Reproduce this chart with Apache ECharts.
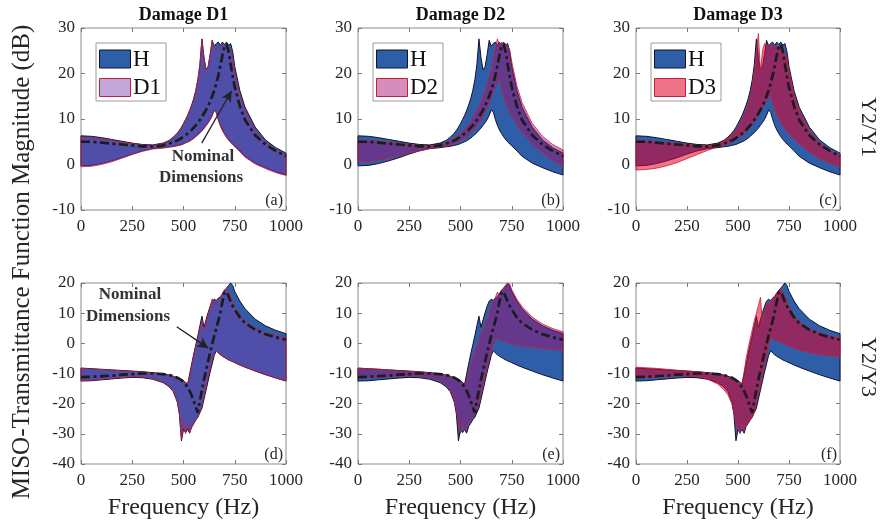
<!DOCTYPE html>
<html>
<head>
<meta charset="utf-8">
<script src="https://cdn.jsdelivr.net/npm/echarts/dist/echarts.min.js"></script>
<style>
  html, body { margin: 0; padding: 0; background: #ffffff; }
  #chart { width: 882px; height: 524px; }
</style>
</head>
<body>
<div id="chart"></div>
<script>
// Frequency grid (Hz) shared by every curve
const freq = [0,50,100,150,200,250,300,350,400,430,450,470,480,490,500,510,520,530,540,550,560,570,580,590,600,610,620,630,640,650,660,670,680,690,700,710,720,730,740,750,775,800,850,900,950,1000];

// ---- Y2/Y1 transmittance (dB) ----
const hUpperTop  = [6.3,6.2,5.9,5.5,5.1,4.7,4.4,4.3,4.7, 5.3,6.0,6.9,7.5,8.2, 9.0,9.9,10.8,11.9,13.1,14.5,16.3,18.6,22.0,27.6,23.5,20.8,21.5,24.2,27.3,26.0,26.6,26.9,26.2,26.9,26.4,26.9,26.2,26.6,24.8, 21.5,16.2,12.6,8.2,5.4,3.7,2.5];
const hLowerTop  = [-0.3,-0.2,0.2,0.8,1.5,2.3,3.0,3.5,3.7, 3.9,4.0,4.2,4.3,4.4, 4.6,4.8,5.0,5.2,5.5,5.8,6.2,6.6,7.0,7.5,8.0,8.6,9.2,9.9,10.8,12.0,11.5,9.9,8.6,7.6,6.8,6.1,5.5,5.0,4.5, 4.1,3.0,1.8,0.3,-0.7,-1.6,-2.3];
const nomTop     = [5.0,5.0,4.8,4.6,4.4,4.2,4.0,3.95,4.2, 4.6,4.9,5.3,5.5,5.8, 6.1,6.4,6.8,7.2,7.6,8.1,8.6,9.2,9.8,10.5,11.2,12.0,12.9,13.9,15.0,16.3,17.8,19.6,21.7,24.0,26.0,26.4,24.8,22.0,19.3, 17.0,12.8,9.8,6.4,4.4,3.0,1.8];
const d1UpperTop = [5.9,5.8,5.6,5.3,4.9,4.6,4.3,4.2,4.6, 5.2,5.9,6.8,7.4,8.1, 8.9,9.8,10.7,11.8,13.0,14.4,16.2,18.5,21.9,27.5,23.4,20.7,21.4,24.1,27.2,25.6,25.4,25.8,25.5,26.2,25.9,26.3,25.4,24.9,23.3, 20.4,15.2,11.8,7.6,4.9,3.2,2.0];
const d1LowerTop = [-0.5,-0.4,0.0,0.6,1.4,2.2,2.9,3.4,3.6, 3.8,3.9,4.1,4.2,4.3, 4.5,4.7,4.9,5.1,5.4,5.7,6.1,6.5,6.9,7.4,7.9,8.5,9.1,9.8,10.7,11.9,11.3,9.7,8.4,7.4,6.6,5.9,5.3,4.8,4.3, 3.9,2.8,1.6,0.1,-0.9,-1.8,-2.4];
const d2UpperTop = [5.3,5.3,5.1,4.9,4.6,4.4,4.2,4.1,4.4, 4.9,5.3,5.8,6.1,6.5, 6.9,7.3,7.8,8.3,8.9,9.5,10.2,11.0,11.8,12.7,13.7,14.8,16.0,17.4,19.0,20.8,22.9,25.4,27.6,26.3,26.8,26.0,26.6,26.1,25.2, 22.6,17.3,13.6,9.0,6.2,4.4,3.2];
const d2LowerTop = [0.6,0.7,1.0,1.4,1.9,2.5,3.0,3.5,3.9, 4.1,4.3,4.6,4.8,5.0, 5.2,5.5,5.8,6.1,6.5,6.9,7.4,7.9,8.5,9.1,9.8,10.6,11.5,12.5,13.6,14.8,16.0,17.2,18.2,19.0,17.0,15.2,13.8,12.6,11.6, 10.7,8.8,7.2,4.6,2.6,0.9,-0.5];
const d3UpperTop = [5.2,5.2,5.0,4.8,4.6,4.4,4.2,4.1,4.5, 5.1,5.7,6.5,7.0,7.6, 8.3,9.1,9.9,10.9,12.0,13.3,15.0,17.2,20.6,24.5,28.8,20.3,25.0,26.6,25.8,26.5,25.6,26.2,25.8,26.0,25.8,25.9,25.0,24.5,23.2, 20.5,15.3,11.8,7.5,4.7,3.0,2.0];
const d3LowerTop = [-1.2,-1.1,-0.8,-0.3,0.4,1.3,2.2,3.1,3.9, 4.3,4.6,5.0,5.2,5.5, 5.8,6.1,6.5,6.9,7.3,7.8,8.3,8.9,9.5,10.2,10.9,11.7,12.5,13.3,14.1,14.8,15.2,13.6,12.2,11.0,10.0,9.2,8.5,7.9,7.3, 6.8,5.6,4.6,2.8,1.3,0.3,-0.5];

// ---- Y2/Y3 transmittance (dB) ----
const hUpperBot  = [-8.2,-8.4,-8.6,-8.8,-9.0,-9.2,-9.4,-9.7,-10.1, -10.5,-10.9,-11.4,-11.7,-12.0, -12.4,-12.9,-13.6,-10.2,-6.8,-3.5,-0.5,2.5,5.8,9.0,5.3,7.8,10.2,12.3,14.0,14.6,14.2,15.0,15.4,16.5,17.6,18.3,19.2,20.0,19.2, 17.2,14.0,11.5,8.0,5.8,4.3,3.2];
const hLowerBot  = [-12.5,-12.4,-12.1,-11.8,-11.5,-11.3,-11.4,-11.9,-13.0, -14.4,-16.0,-19.5,-23.5,-32.3, -28.5,-29.6,-28.5,-29.8,-27.5,-26.5,-25.3,-24.5,-23.0,-21.5,-18.5,-15.5,-12.5,-9.5,-6.8,-4.0,-2.4,-3.2,-3.8,-4.3,-4.7,-5.1,-5.5,-5.8,-6.1, -6.4,-7.2,-7.9,-9.2,-10.4,-11.5,-12.5];
const nomBot     = [-11.2,-11.1,-10.9,-10.7,-10.4,-10.2,-10.0,-10.0,-10.2, -10.5,-10.9,-11.4,-11.8,-12.2, -12.8,-13.6,-14.6,-15.8,-17.3,-19.2,-21.3,-23.0,-19.0,-15.5,-12.0,-9.0,-6.0,-3.0,-0.2,2.5,5.0,7.5,10.3,13.8,16.8,17.2,15.5,13.8,12.4, 11.2,8.6,6.7,4.5,3.0,2.0,1.2];
const d1UpperBot = [-8.3,-8.5,-8.7,-8.9,-9.1,-9.3,-9.5,-9.8,-10.2, -10.6,-11.0,-11.5,-11.8,-12.1, -12.5,-13.0,-13.4,-10.8,-7.4,-4.0,-1.0,2.0,5.0,7.5,4.3,7.0,9.5,12.0,14.8,12.2,14.0,14.5,15.2,16.5,17.8,18.2,17.3,16.0,14.0, 12.2,9.4,7.4,5.0,3.6,2.6,1.9];
const d1LowerBot = [-12.3,-12.2,-11.9,-11.6,-11.3,-11.1,-11.2,-11.7,-12.8, -14.2,-15.8,-19.3,-23.3,-31.8, -25.8,-30.0,-26.5,-29.5,-28.0,-26.8,-25.5,-24.5,-22.8,-20.3,-17.5,-14.3,-11.0,-8.0,-5.2,-3.0,-2.6,-3.1,-3.7,-4.2,-4.6,-5.0,-5.4,-5.7,-6.0, -6.3,-7.1,-7.8,-9.1,-10.3,-11.4,-12.4];
const d2UpperBot = [-8.3,-8.4,-8.6,-8.8,-9.1,-9.3,-9.5,-9.8,-10.2, -10.6,-11.0,-11.6,-12.0,-12.4, -12.9,-13.4,-14.0,-12.5,-10.0,-7.5,-5.0,-2.8,-0.8,1.0,2.8,4.5,6.2,8.0,10.0,12.2,14.0,15.2,17.0,16.2,17.5,18.2,19.2,19.9,19.6, 17.8,14.6,12.2,8.7,6.4,4.9,3.8];
const d2LowerBot = [-11.3,-11.3,-11.2,-11.0,-10.9,-10.8,-10.9,-11.3,-12.4, -13.8,-15.4,-18.8,-22.5,-26.5, -30.0,-26.0,-29.0,-27.5,-26.5,-25.5,-24.5,-23.5,-22.0,-19.5,-16.8,-14.0,-11.0,-8.0,-5.2,-2.5,-0.2,1.5,1.6,1.3,1.0,0.7,0.5,0.3,0.1, -0.1,-0.5,-0.8,-1.3,-1.7,-2.0,-2.3];
const d3UpperBot = [-7.9,-8.1,-8.3,-8.6,-8.9,-9.2,-9.4,-9.8,-10.3, -10.8,-11.2,-11.8,-12.2,-12.6, -13.1,-13.6,-13.0,-9.5,-5.0,-1.5,1.5,4.5,7.5,10.0,12.5,15.2,6.5,10.5,13.5,12.8,14.0,15.0,15.8,16.8,17.5,17.8,17.0,15.5,13.8, 12.2,9.2,7.2,4.9,3.4,2.5,1.8];
const d3LowerBot = [-11.3,-11.3,-11.2,-11.0,-10.8,-10.8,-11.0,-11.8,-13.5, -15.3,-17.0,-20.0,-23.0,-26.5, -28.5,-30.0,-26.0,-29.0,-27.0,-26.5,-25.5,-24.5,-22.5,-19.5,-16.5,-13.5,-10.5,-7.3,-4.0,-0.8,2.0,1.6,1.2,0.9,0.6,0.3,0.0,-0.3,-0.6, -0.9,-1.6,-2.2,-3.0,-3.7,-4.1,-4.5];

// Axis ticks
const xTicks = { min: 0, max: 1000, step: 250 };
const yTicksTop = { min: -10, max: 30, step: 10 };
const yTicksBot = { min: -40, max: 20, step: 10 };

// Arrow endpoints for the "Nominal Dimensions" callouts [Hz, dB]
const arrowTop = [[589, 4.7], [735, 16.2]];
const arrowBot = [[467, 5.5], [621, -1.6]];

// ---- styling ----
const SERIF = 'Liberation Serif';
const H_FILL = '#2f5ea8';
const H_EDGE = '#10122e';
const D_EDGE = '#c41e3a';
const D_FILLS = ['rgba(120,60,170,0.45)', 'rgba(165,15,110,0.47)', 'rgba(225,0,40,0.55)'];
const TEXT = '#262626';

const colLeft = [81, 358, 636];
const colWidth = [205, 205, 204];
const rowTop = [28, 283];
const rowHeight = [182, 181];

const panels = [
  { r: 0, c: 0, yt: yTicksTop, hU: hUpperTop, hL: hLowerTop, dU: d1UpperTop, dL: d1LowerTop, nom: nomTop, tag: '(a)', arrow: arrowTop },
  { r: 0, c: 1, yt: yTicksTop, hU: hUpperTop, hL: hLowerTop, dU: d2UpperTop, dL: d2LowerTop, nom: nomTop, tag: '(b)' },
  { r: 0, c: 2, yt: yTicksTop, hU: hUpperTop, hL: hLowerTop, dU: d3UpperTop, dL: d3LowerTop, nom: nomTop, tag: '(c)' },
  { r: 1, c: 0, yt: yTicksBot, hU: hUpperBot, hL: hLowerBot, dU: d1UpperBot, dL: d1LowerBot, nom: nomBot, tag: '(d)', arrow: arrowBot },
  { r: 1, c: 1, yt: yTicksBot, hU: hUpperBot, hL: hLowerBot, dU: d2UpperBot, dL: d2LowerBot, nom: nomBot, tag: '(e)' },
  { r: 1, c: 2, yt: yTicksBot, hU: hUpperBot, hL: hLowerBot, dU: d3UpperBot, dL: d3LowerBot, nom: nomBot, tag: '(f)' }
];
const damageNames = ['D1', 'D2', 'D3'];

// Closed polygon between an upper and a lower envelope, mapped through the axes
function bandRenderer(xs, upper, lower, fill, stroke, lw) {
  return function (params, api) {
    if (params.dataIndex !== 0) return;
    const pts = [];
    for (let i = 0; i < xs.length; i++) pts.push(api.coord([xs[i], upper[i]]));
    for (let i = xs.length - 1; i >= 0; i--) pts.push(api.coord([xs[i], lower[i]]));
    return {
      type: 'polygon',
      shape: { points: pts },
      style: { fill: fill, stroke: stroke, lineWidth: lw, lineJoin: 'round' }
    };
  };
}

const grid = [], xAxis = [], yAxis = [], series = [], graphic = [];
const tickStyle = { show: true, inside: true, length: 4, lineStyle: { color: '#7a7a7a', width: 1 } };
const labelStyle = { color: TEXT, fontFamily: SERIF, fontSize: 17, formatter: function (v) { return String(v); } };
const hiddenLine = { show: false, onZero: false };

panels.forEach(function (p, k) {
  const left = colLeft[p.c], top = rowTop[p.r], w = colWidth[p.c], h = rowHeight[p.r];
  grid.push({ left: left, top: top, width: w, height: h, show: true, borderColor: '#8a8a8a', borderWidth: 1, backgroundColor: 'transparent' });

  const xBase = { gridIndex: k, type: 'value', min: xTicks.min, max: xTicks.max, interval: xTicks.step,
    axisLine: hiddenLine, axisTick: tickStyle, splitLine: { show: false } };
  xAxis.push(Object.assign({}, xBase, { position: 'bottom', axisLabel: Object.assign({ margin: 8 }, labelStyle) }));
  xAxis.push(Object.assign({}, xBase, { position: 'top', axisLabel: { show: false } }));

  const yBase = { gridIndex: k, type: 'value', min: p.yt.min, max: p.yt.max, interval: p.yt.step,
    axisLine: hiddenLine, axisTick: tickStyle, splitLine: { show: false } };
  yAxis.push(Object.assign({}, yBase, { position: 'left', axisLabel: Object.assign({ margin: 6 }, labelStyle) }));
  yAxis.push(Object.assign({}, yBase, { position: 'right', axisLabel: { show: false } }));

  const xi = 2 * k, yi = 2 * k;
  series.push({ type: 'custom', name: 'H', xAxisIndex: xi, yAxisIndex: yi, data: [[0, 0]], silent: true, z: 2,
    renderItem: bandRenderer(freq, p.hU, p.hL, H_FILL, H_EDGE, 1) });
  series.push({ type: 'custom', name: damageNames[p.c], xAxisIndex: xi, yAxisIndex: yi, data: [[0, 0]], silent: true, z: 3,
    renderItem: bandRenderer(freq, p.dU, p.dL, D_FILLS[p.c], D_EDGE, 0.8) });

  const nomSeries = { type: 'line', name: 'Nominal', xAxisIndex: xi, yAxisIndex: yi, z: 4, silent: true,
    data: freq.map(function (f, i) { return [f, p.nom[i]]; }),
    showSymbol: false, symbol: 'none',
    lineStyle: { color: '#1c1c1c', width: 2.7, type: [9, 3.5, 3, 3.5] } };
  if (p.arrow) {
    nomSeries.markLine = {
      silent: true, animation: false, symbol: ['none', 'arrow'], symbolSize: [8, 11],
      label: { show: false },
      lineStyle: { color: '#222222', width: 1.3, type: 'solid' },
      data: [[{ coord: p.arrow[0] }, { coord: p.arrow[1] }]]
    };
  }
  series.push(nomSeries);

  // panel tag, bottom-right corner
  graphic.push({ type: 'text', x: left + w - 3, y: top + h - 9, z: 10,
    style: { text: p.tag, fill: TEXT, font: '16px "' + SERIF + '"', textAlign: 'right', textVerticalAlign: 'middle' } });

  if (p.r === 0) {
    // column title
    graphic.push({ type: 'text', x: left + w / 2, y: 15, z: 10,
      style: { text: 'Damage ' + damageNames[p.c], fill: '#111', font: 'bold 18px "' + SERIF + '"', textAlign: 'center', textVerticalAlign: 'middle' } });
    // legend box
    graphic.push({ type: 'rect', z: 10, shape: { x: left + 15, y: 43, width: 70, height: 58 },
      style: { fill: '#ffffff', stroke: '#9a9a9a', lineWidth: 1 } });
    graphic.push({ type: 'rect', z: 11, shape: { x: left + 18.5, y: 50, width: 31, height: 18 },
      style: { fill: H_FILL, stroke: H_EDGE, lineWidth: 1 } });
    graphic.push({ type: 'rect', z: 11, shape: { x: left + 18.5, y: 78.5, width: 31, height: 18 },
      style: { fill: D_FILLS[p.c], stroke: D_EDGE, lineWidth: 1 } });
    graphic.push({ type: 'text', x: left + 52, y: 60, z: 11,
      style: { text: 'H', fill: '#111', font: '23px "' + SERIF + '"', textAlign: 'left', textVerticalAlign: 'middle' } });
    graphic.push({ type: 'text', x: left + 52, y: 88, z: 11,
      style: { text: damageNames[p.c], fill: '#111', font: '23px "' + SERIF + '"', textAlign: 'left', textVerticalAlign: 'middle' } });
  } else {
    graphic.push({ type: 'text', x: left + w / 2, y: 508, z: 10,
      style: { text: 'Frequency (Hz)', fill: TEXT, font: '24px "' + SERIF + '"', textAlign: 'center', textVerticalAlign: 'middle' } });
  }
});

// callout texts
[[203, 157, 'Nominal'], [201, 178, 'Dimensions'], [130, 295, 'Nominal'], [128, 317, 'Dimensions']].forEach(function (t) {
  graphic.push({ type: 'text', x: t[0], y: t[1], z: 12,
    style: { text: t[2], fill: '#333333', font: 'bold 17px "' + SERIF + '"', textAlign: 'center', textVerticalAlign: 'middle' } });
});

// shared axis titles
graphic.push({ type: 'text', x: 22, y: 262, rotation: Math.PI / 2, z: 10,
  style: { text: 'MISO-Transmittance Function Magnitude (dB)', fill: TEXT, font: '25px "' + SERIF + '"', textAlign: 'center', textVerticalAlign: 'middle' } });
graphic.push({ type: 'text', x: 868, y: 127, rotation: -Math.PI / 2, z: 10,
  style: { text: 'Y2/Y1', fill: TEXT, font: '22px "' + SERIF + '"', textAlign: 'center', textVerticalAlign: 'middle' } });
graphic.push({ type: 'text', x: 868, y: 367, rotation: -Math.PI / 2, z: 10,
  style: { text: 'Y2/Y3', fill: TEXT, font: '22px "' + SERIF + '"', textAlign: 'center', textVerticalAlign: 'middle' } });

const chart = echarts.init(document.getElementById('chart'), null, { renderer: 'canvas' });
chart.setOption({
  backgroundColor: '#ffffff',
  animation: false,
  grid: grid,
  xAxis: xAxis,
  yAxis: yAxis,
  series: series,
  graphic: graphic
});
</script>
</body>
</html>
